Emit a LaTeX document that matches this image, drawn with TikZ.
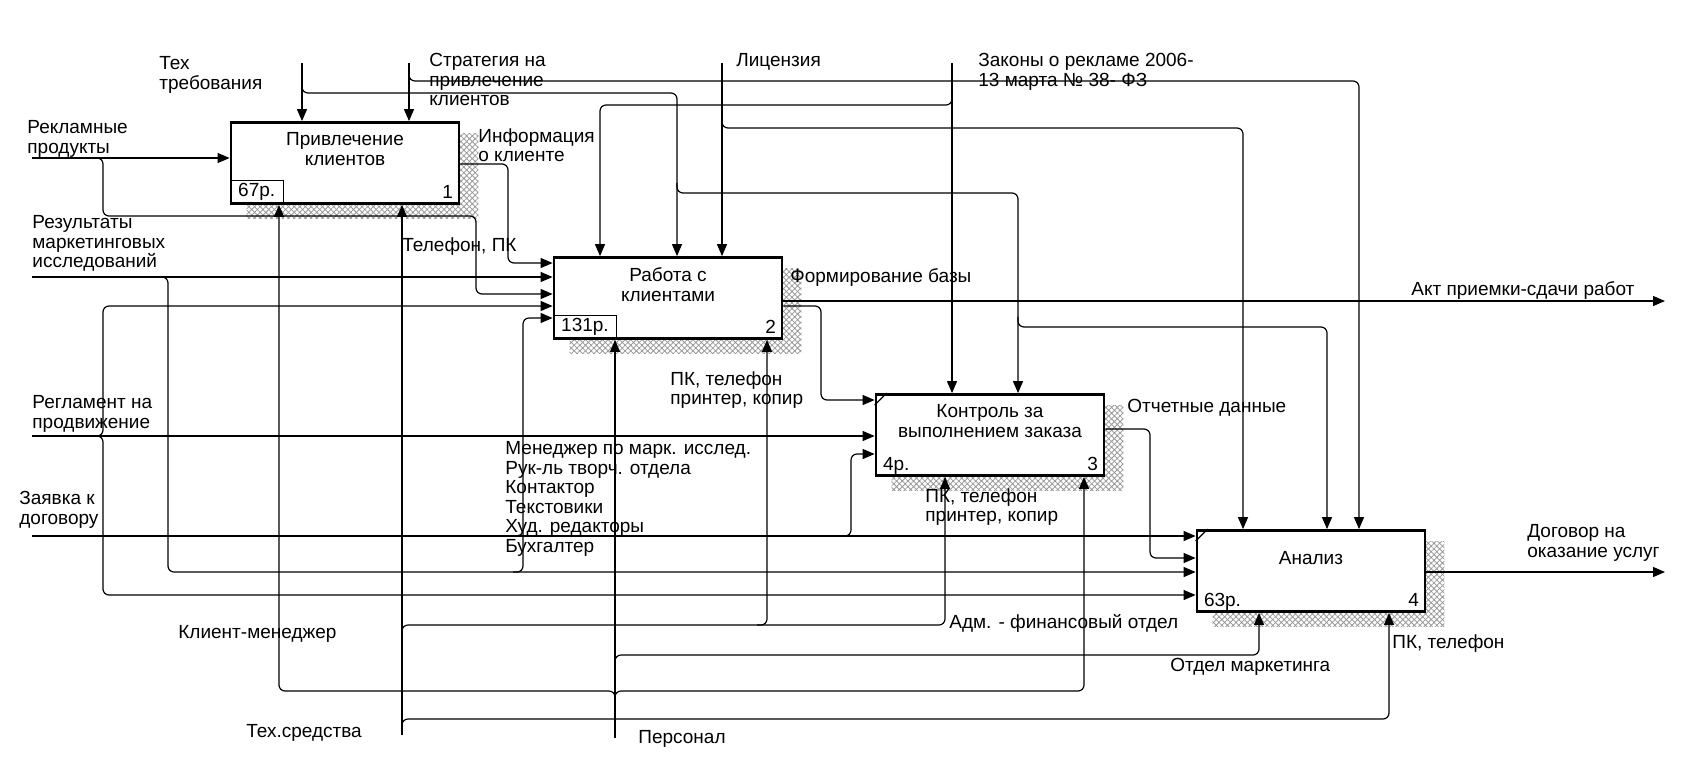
\documentclass[tikz,border=0pt]{standalone}
\usepackage{fontspec}
\setmainfont{Liberation Sans}
\usetikzlibrary{arrows.meta,patterns.meta,backgrounds,positioning}
\newcommand{\lblfont}{\fontsize{9.5}{9.8}\selectfont}

\tikzset{
  func/.style = {draw, line width = 1.4pt, fill = white, rectangle, minimum width = 114pt, minimum height = 40.5pt, inner sep = 0pt},
  fname/.style = {inner sep = 0pt, align = center, font = \lblfont},
  cost/.style = {draw, line width = 0.6pt, rectangle, minimum height = 12pt, inner xsep = 4pt, inner ysep = 0pt, anchor = south west, font = \lblfont},
  num/.style = {inner sep = 0pt, font = \lblfont},
  lbl/.style = {inner sep = 0pt, align = left, anchor = north west, font = \lblfont},
  link/.style = {line width = 0.6pt, rounded corners = 3pt},
  arr/.style = {link, -{Triangle[length = 6pt, width = 5pt]}},
  hatch/.style = {pattern = {Hatch[angle = 45, distance = 2pt, line width = 0.4pt]}, pattern color = gray!80}
}

\begin{document}
\begin{tikzpicture}[x = 0.5pt, y = -0.5pt]
        \useasboundingbox (0, 0) rectangle (1691, 778);

        % Functions
        \node [func] (b1) at (345, 163) {};
        \node [func] (b2) at (668, 298) {};
        \node [func] (b3) at (990, 435) {};
        \node [func] (b4) at (1311, 571) {};

        \node [fname, below = 5.5pt of b1.north] (t1) {Привлечение\\клиентов};
        \node [fname, below = 5.5pt of b2.north] (t2) {Работа с\\клиентами};
        \node [fname, below = 5.5pt of b3.north] (t3) {Контроль за\\выполнением заказа};
        \node [fname, below = 11pt of b4.north] (t4) {Анализ};

        \node [cost] (c1) at (b1.south west) {67р.};
        \node [cost] (c2) at (b2.south west) {131р.};
        \node [num, anchor = base west] (c3) at ([shift = {(8, -6)}]b3.south west) {4р.};
        \node [num, anchor = base west] (c4) at ([shift = {(8, -6)}]b4.south west) {63р.};

        \node [num, anchor = base east] (n1) at ([shift = {(-7, -6)}]b1.south east) {1};
        \node [num, anchor = base east] (n2) at ([shift = {(-7, -6)}]b2.south east) {2};
        \node [num, anchor = base east] (n3) at ([shift = {(-7, -6)}]b3.south east) {3};
        \node [num, anchor = base east] (n4) at ([shift = {(-7, -6)}]b4.south east) {4};

        \draw [line width = 0.6pt] ([shift = {(0, 12)}]b3.north west) -- ([shift = {(12, 0)}]b3.north west);
        \draw [line width = 0.6pt] ([shift = {(0, 12)}]b4.north west) -- ([shift = {(12, 0)}]b4.north west);

        % Shadows
        \begin{scope}[on background layer]
            \fill [hatch] ([shift = {(17, 12)}]b1.north west) rectangle ([shift = {(18, 14)}]b1.south east);
            \fill [hatch] ([shift = {(17, 12)}]b2.north west) rectangle ([shift = {(18, 14)}]b2.south east);
            \fill [hatch] ([shift = {(17, 12)}]b3.north west) rectangle ([shift = {(18, 14)}]b3.south east);
            \fill [hatch] ([shift = {(17, 12)}]b4.north west) rectangle ([shift = {(18, 14)}]b4.south east);
        \end{scope}

        % Free ends
        \coordinate (inRek) at (32, 158);
        \coordinate (inRez) at (32, 277);
        \coordinate (inReg) at (32, 436);
        \coordinate (inZay) at (32, 536);
        \coordinate (ctTeh) at (302, 63);
        \coordinate (ctStr) at (409, 63);
        \coordinate (ctLic) at (722, 63);
        \coordinate (ctZak) at (952, 63);
        \coordinate (mhTeh) at (402, 735);
        \coordinate (mhPer) at (615, 738);
        \coordinate (outAkt) at (1665, 301);
        \coordinate (outDog) at (1665, 572);

        % Inputs
        \draw [arr] (inRek) -- (inRek -| b1.west);
        \draw [arr] (93, 158) -- (103, 158) -- (103, 216) -- (476, 216) -- (476, 294) -- (b2.west |- 0, 294);
        \draw [arr] (inRez) -- (inRez -| b2.west);
        \draw [arr] (158, 277) -- (168, 277) -- (168, 572) -- (b4.west |- 0, 572);
        \draw [arr] (513, 572) -- (523, 572) -- (523, 318) -- (b2.west |- 0, 318);
        \draw [arr] (inReg) -- (inReg -| b3.west);
        \draw [arr] (93, 436) -- (103, 436) -- (103, 306) -- (b2.west |- 0, 306);
        \draw [arr] (93, 436) -- (103, 436) -- (103, 595) -- (b4.west |- 0, 595);
        \draw [arr] (inZay) -- (inZay -| b4.west);
        \draw [arr] (841, 536) -- (851, 536) -- (851, 454) -- (b3.west |- 0, 454);

        % Outputs
        \draw [arr] (b1.east |- 0, 164) -- (508, 164) -- (508, 263) -- (b2.west |- 0, 263);
        \draw [arr] (b2.east |- 0, 301) -- (outAkt);
        \draw [arr] (b2.east |- 0, 306) -- (821, 306) -- (821, 400) -- (b3.west |- 0, 400);
        \draw [arr] (b3.east |- 0, 429) -- (1150, 429) -- (1150, 558) -- (b4.west |- 0, 558);
        \draw [arr] (b4.east |- 0, 572) -- (outDog);

        % Controls
        \draw [arr] (ctTeh) -- (ctTeh |- b1.north);
        \draw [arr] (302, 83) -- (302, 93) -- (677, 93) -- (677, 0 |- b2.north);
        \draw [arr] (677, 183) -- (677, 193) -- (1018, 193) -- (1018, 0 |- b3.north);
        \draw [arr] (1018, 317) -- (1018, 327) -- (1327, 327) -- (1327, 0 |- b4.north);
        \draw [arr] (ctStr) -- (ctStr |- b1.north);
        \draw [arr] (409, 71) -- (409, 81) -- (1359, 81) -- (1359, 0 |- b4.north);
        \draw [arr] (ctLic) -- (ctLic |- b2.north);
        \draw [arr] (722, 118) -- (722, 128) -- (1243, 128) -- (1243, 0 |- b4.north);
        \draw [arr] (ctZak) -- (ctZak |- b3.north);
        \draw [arr] (952, 95) -- (952, 105) -- (600, 105) -- (600, 0 |- b2.north);

        % Mechanisms
        \draw [arr] (mhTeh) -- (mhTeh |- b1.south);
        \draw [arr] (402, 635) -- (402, 625) -- (945, 625) -- (945, 0 |- b3.south);
        \draw [arr] (757, 625) -- (767, 625) -- (767, 0 |- b2.south);
        \draw [arr] (402, 729) -- (402, 719) -- (1389, 719) -- (1389, 0 |- b4.south);
        \draw [arr] (mhPer) -- (mhPer |- b2.south);
        \draw [arr] (615, 701) -- (615, 691) -- (279, 691) -- (279, 0 |- b1.south);
        \draw [arr] (615, 701) -- (615, 691) -- (1084, 691) -- (1084, 0 |- b3.south);
        \draw [arr] (615, 665) -- (615, 655) -- (1259, 655) -- (1259, 0 |- b4.south);

        % Labels
        \node [lbl] (lTeh) at (159, 56) {Тех\\требования};
        \node [lbl] (lStr) at (429, 53) {Стратегия на\\привлечение\\клиентов};
        \node [lbl] (lLic) at (736, 53) {Лицензия};
        \node [lbl] (lZak) at (978, 53) {Законы о рекламе 2006-\\13 марта № 38- ФЗ};
        \node [lbl] (lRek) at (27, 120) {Рекламные\\продукты};
        \node [lbl] (lInf) at (478, 128) {Информация\\о клиенте};
        \node [lbl] (lTel) at (402, 237) {Телефон, ПК};
        \node [lbl] (lRez) at (32, 215) {Результаты\\маркетинговых\\исследований};
        \node [lbl] (lForm) at (790, 268) {Формирование базы};
        \node [lbl] (lAkt) at (1411, 281) {Акт приемки-сдачи работ};
        \node [lbl] (lPk2) at (670, 371) {ПК, телефон\\принтер, копир};
        \node [lbl] (lReg) at (32, 395) {Регламент на\\продвижение};
        \node [lbl] (lOtch) at (1127, 399) {Отчетные данные};
        \node [lbl] (lStaff) at (505, 441) {Менеджер по марк. исслед.\\Рук-ль творч. отдела\\Контактор\\Текстовики\\Худ. редакторы\\Бухгалтер};
        \node [lbl] (lPk3) at (925, 488) {ПК, телефон\\принтер, копир};
        \node [lbl] (lZay) at (19, 491) {Заявка к\\договору};
        \node [lbl] (lDog) at (1527, 524) {Договор на\\оказание услуг};
        \node [lbl] (lAdm) at (949, 614) {Адм. - финансовый отдел};
        \node [lbl] (lKli) at (178, 625) {Клиент-менеджер};
        \node [lbl] (lPk4) at (1392, 634) {ПК, телефон};
        \node [lbl] (lMark) at (1170, 658) {Отдел маркетинга};
        \node [lbl] (lTs) at (246, 724) {Тех.средства};
        \node [lbl] (lPers) at (638, 730) {Персонал};

    \end{tikzpicture}
\end{document}
